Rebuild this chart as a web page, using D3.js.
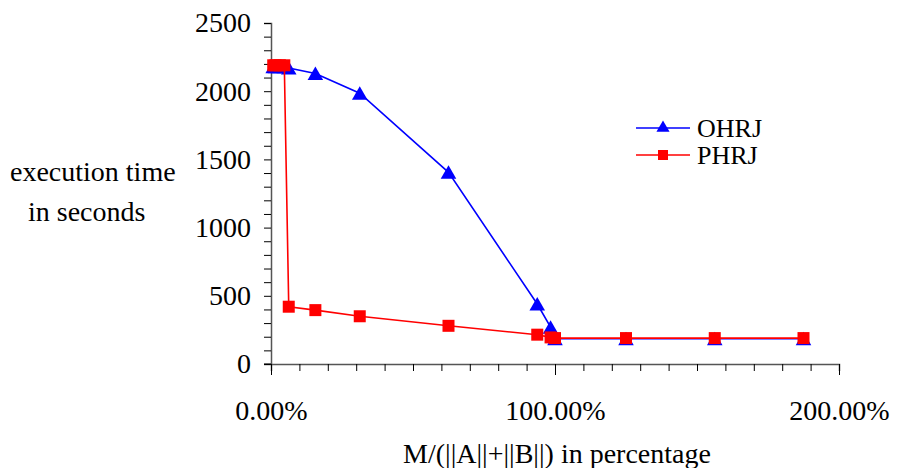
<!DOCTYPE html>
<html>
<head>
<meta charset="utf-8">
<script src="https://cdn.jsdelivr.net/npm/d3@7"></script>
<style>
  body { margin: 0; background: #fff; }
  svg text { font-family: "Liberation Serif", "Times New Roman", serif; }
</style>
</head>
<body>
<svg width="898" height="468"></svg>
<script>
// data (x in percent, y in seconds)
var xOHRJ = [0.78, 1.5625, 3.125, 4.6875, 6.25, 15.625, 31.25, 62.5, 93.75, 98.4375, 100, 125, 156.25, 187.5];
var yOHRJ = [2180, 2180, 2180, 2180, 2170, 2130, 1985, 1405, 440, 270, 185, 185, 185, 185];
var xPHRJ = [0.78, 1.5625, 3.125, 4.6875, 6.25, 15.625, 31.25, 62.5, 93.75, 98.4375, 100, 125, 156.25, 187.5];
var yPHRJ = [2190, 2190, 2190, 2190, 420, 395, 350, 280, 215, 195, 190, 190, 190, 190];
var yTicks = [0, 500, 1000, 1500, 2000, 2500];
var xTicks = [0, 100, 200];
var seriesNames = ["OHRJ", "PHRJ"];

var svg = d3.select("svg");
var x = d3.scaleLinear().domain([0, 200]).range([271, 839]);
var y = d3.scaleLinear().domain([0, 2500]).range([364, 23]);
var fs = 28;

// y axis: minor ticks every 100
var yAxis = d3.axisLeft(y).tickValues(d3.range(0, 2501, 100)).tickSize(7)
    .tickFormat(function(d) { return yTicks.indexOf(d) >= 0 ? d : ""; });
var gy = svg.append("g").attr("transform", "translate(271,0)").call(yAxis)
    .attr("font-family", null).attr("font-size", null);
gy.select(".domain").attr("stroke", "#555").attr("stroke-width", 1.5);
gy.selectAll(".tick line").attr("stroke", "#000");
gy.selectAll("text").attr("font-size", fs).attr("x", -20).attr("fill", "#000");

// x axis: minor ticks every 10%
var xAxis = d3.axisBottom(x).tickValues(d3.range(0, 201, 10)).tickSize(7)
    .tickFormat(function(d) { return xTicks.indexOf(d) >= 0 ? d.toFixed(2) + "%" : ""; });
var gx = svg.append("g").attr("transform", "translate(0,364)").call(xAxis)
    .attr("font-family", null).attr("font-size", null);
gx.select(".domain").attr("stroke", "#555").attr("stroke-width", 1.5);
gx.selectAll(".tick line").attr("stroke", "#000");
gx.selectAll(".tick").filter(function(d) { return xTicks.indexOf(d) >= 0; })
    .select("line").attr("y2", 11);
gx.selectAll("text").attr("font-size", fs).attr("y", 56).attr("dy", 0).attr("fill", "#000");
// small cross at the origin
svg.append("line").attr("x1", 264).attr("x2", 271).attr("y1", 364).attr("y2", 364).attr("stroke", "#000");

var line = d3.line().x(function(d) { return x(d[0]); }).y(function(d) { return y(d[1]); });
var dataO = d3.zip(xOHRJ, yOHRJ);
var dataP = d3.zip(xPHRJ, yPHRJ);
var tri = d3.symbol().type(d3.symbolTriangle).size(105);

svg.append("path").datum(dataO).attr("d", line)
    .attr("fill", "none").attr("stroke", "#0000ff").attr("stroke-width", 1.6);
svg.selectAll(".tri").data(dataO).enter().append("path")
    .attr("class", "tri").attr("d", tri).attr("fill", "#0000ff")
    .attr("transform", function(d) { return "translate(" + x(d[0]) + "," + (y(d[1]) + 2) + ")"; });

svg.append("path").datum(dataP).attr("d", line)
    .attr("fill", "none").attr("stroke", "#ff0000").attr("stroke-width", 1.6);
svg.selectAll(".sq").data(dataP).enter().append("rect")
    .attr("class", "sq").attr("width", 12).attr("height", 12).attr("fill", "#ff0000")
    .attr("x", function(d) { return x(d[0]) - 6; })
    .attr("y", function(d) { return y(d[1]) - 6; });

// legend
var colors = ["#0000ff", "#ff0000"];
var leg = svg.selectAll(".leg").data(seriesNames).enter().append("g")
    .attr("class", "leg")
    .attr("transform", function(d, i) { return "translate(636," + (128 + i * 27) + ")"; });
leg.append("line").attr("x1", 0).attr("x2", 54)
    .attr("stroke", function(d, i) { return colors[i]; }).attr("stroke-width", 1.6);
leg.each(function(d, i) {
    var g = d3.select(this);
    if (i == 0) g.append("path").attr("d", d3.symbol().type(d3.symbolTriangle).size(75)).attr("fill", colors[0]).attr("transform", "translate(27,0)");
    else g.append("rect").attr("x", 22).attr("y", -5).attr("width", 10).attr("height", 10).attr("fill", colors[1]);
});
leg.append("text").attr("x", 61).attr("y", 9).attr("font-size", 26).text(function(d) { return d; });

// axis titles
svg.append("text").attr("x", 10).attr("y", 181).attr("font-size", fs).text("execution time");
svg.append("text").attr("x", 28).attr("y", 221).attr("font-size", fs).text("in seconds");
svg.append("text").attr("x", 557).attr("y", 463).attr("font-size", fs).attr("text-anchor", "middle")
    .text("M/(||A||+||B||) in percentage");
</script>
</body>
</html>
